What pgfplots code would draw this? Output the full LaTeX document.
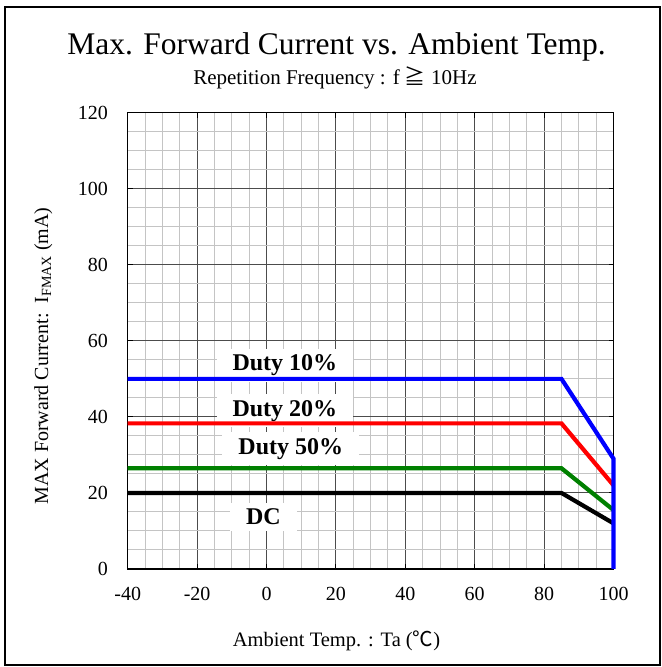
\documentclass[border=0pt]{standalone}
\usepackage{pgfplots}
\pgfplotsset{compat=1.18}
\usepackage{fontspec}
\setmainfont{Liberation Serif}
\newfontfamily\cjk{Noto Sans CJK JP}

\definecolor{majgrid}{gray}{0.3}
\definecolor{mingrid}{gray}{0.77}
\definecolor{dutyblue}{RGB}{0,0,255}
\definecolor{dutyred}{RGB}{255,0,0}
\definecolor{dutygreen}{RGB}{0,128,0}

\begin{document}
\begin{tikzpicture}[x=1bp,y=1bp]
\useasboundingbox (0,0) rectangle (662,667);
\draw[line width=2bp] (5,2) rectangle (660,660);

\begin{axis}[
  at={(127.7bp,98bp)}, anchor=south west,
  scale only axis, width=485.8bp, height=456.3bp,
  xmin=-40, xmax=100, ymin=0, ymax=120,
  xtick={-40,-20,...,100}, ytick={0,20,...,120},
  minor x tick num=3, minor y tick num=3,
  grid=both,
  major grid style={majgrid, line width=0.9bp},
  minor grid style={mingrid, line width=1bp},
  axis line style={black, line width=1.5bp},
  major tick length=5bp, minor tick length=0pt,
  tick style={black, line width=1bp},
  /pgf/number format/assume math mode=true,
  tick label style={font=\fontsize{20bp}{24bp}\selectfont, inner sep=0pt},
  xticklabel style={anchor=base, yshift=-32bp},
  yticklabel style={anchor=east, xshift=-19.7bp},
  clip=false,
]
% labels first, so the lines go over their white boxes
\node[fill=white, inner xsep=16bp, inner ysep=6bp, anchor=base,
  font=\fontsize{24bp}{28bp}\selectfont\bfseries] at (axis cs:5.3,52.1) {Duty 10\%};
\node[fill=white, inner xsep=16bp, inner ysep=6bp, anchor=base,
  font=\fontsize{24bp}{28bp}\selectfont\bfseries] at (axis cs:5.3,40.2) {Duty 20\%};
\node[fill=white, inner xsep=16bp, inner ysep=6bp, anchor=base,
  font=\fontsize{24bp}{28bp}\selectfont\bfseries] at (axis cs:7.0,30.2) {Duty 50\%};
\node[fill=white, inner xsep=16bp, inner ysep=6bp, anchor=base,
  font=\fontsize{24bp}{28bp}\selectfont\bfseries] at (axis cs:-0.9,11.6) {DC};

\addplot[black, line width=4.2bp] coordinates {(-40,20) (85,20) (100,12)};
\addplot[dutygreen, line width=4.2bp] coordinates {(-40,26.5) (85,26.5) (100,15.5)};
\addplot[dutyred, line width=4.2bp] coordinates {(-40,38.3) (85,38.3) (100,22)};
\addplot[dutyblue, line width=4.2bp] coordinates {(-40,50) (85,50) (100,29) (100,0)};
\end{axis}

\node[anchor=base, font=\fontsize{31.5bp}{36bp}\selectfont] at (336.5,612)
  {Max. Forward Current vs. Ambient Temp.};
\node[anchor=base, font=\fontsize{21bp}{25bp}\selectfont] at (335,582)
  {Repetition Frequency : f\ {\cjk ≧} 10Hz};
\node[anchor=base, font=\fontsize{20.5bp}{24bp}\selectfont] at (336.5,20.3)
  {Ambient Temp. : Ta ({\cjk ℃})};
\node[anchor=base, rotate=90, font=\fontsize{20bp}{24bp}\selectfont] at (48,311)
  {MAX Forward Current:~~I\textsubscript{FMAX} (mA)};
\end{tikzpicture}
\end{document}
